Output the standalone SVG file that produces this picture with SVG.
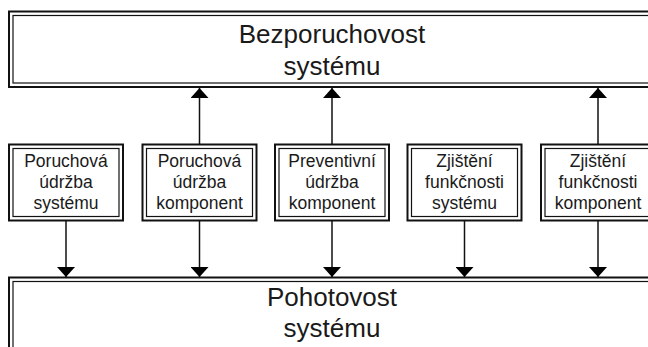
<svg xmlns="http://www.w3.org/2000/svg" width="648" height="347" viewBox="0 0 648 347">
<style>
.o{fill:none;stroke:#111;stroke-width:2}
.i{fill:none;stroke:#111;stroke-width:1.2}
.t{font-family:"Liberation Sans",Arial,sans-serif;fill:#1a1a1a;text-anchor:middle}
.big{font-size:26px}
.sm{font-size:17.5px}
.c{stroke:#111;stroke-width:1.5;fill:none}
</style>
<defs>
<marker id="ah" markerWidth="10" markerHeight="18" refX="10" refY="9" markerUnits="userSpaceOnUse" orient="auto">
<path d="M0,0 L10,9 L0,18 Z" fill="#000"/>
</marker>
</defs>
<rect width="648" height="347" fill="#fff"/>
<g id="bezporuchovost">
<rect class="o" x="9" y="11.5" width="646" height="75.5"/>
<rect class="i" x="13" y="15.5" width="638" height="67.5"/>
<text class="t big" x="332" y="43">Bezporuchovost</text>
<text class="t big" x="332" y="75">systému</text>
</g>
<g id="pohotovost">
<rect class="o" x="9" y="277.5" width="646" height="80"/>
<rect class="i" x="13" y="281.5" width="638" height="72"/>
<text class="t big" x="332" y="306">Pohotovost</text>
<text class="t big" x="332" y="337">systému</text>
</g>
<g id="n1">
<rect class="o" x="9" y="144.5" width="114" height="76"/>
<rect class="i" x="13" y="148.5" width="106" height="68"/>
<text class="t sm" x="66" y="167">Poruchová</text>
<text class="t sm" x="66" y="188">údržba</text>
<text class="t sm" x="66" y="209">systému</text>
</g>
<g id="n2">
<rect class="o" x="142.5" y="144.5" width="114" height="76"/>
<rect class="i" x="146.5" y="148.5" width="106" height="68"/>
<text class="t sm" x="199.5" y="167">Poruchová</text>
<text class="t sm" x="199.5" y="188">údržba</text>
<text class="t sm" x="199.5" y="209">komponent</text>
</g>
<g id="n3">
<rect class="o" x="275" y="144.5" width="114" height="76"/>
<rect class="i" x="279" y="148.5" width="106" height="68"/>
<text class="t sm" x="332" y="167">Preventivní</text>
<text class="t sm" x="332" y="188">údržba</text>
<text class="t sm" x="332" y="209">komponent</text>
</g>
<g id="n4">
<rect class="o" x="407.5" y="144.5" width="114" height="76"/>
<rect class="i" x="411.5" y="148.5" width="106" height="68"/>
<text class="t sm" x="464.5" y="167">Zjištění</text>
<text class="t sm" x="464.5" y="188">funkčnosti</text>
<text class="t sm" x="464.5" y="209">systému</text>
</g>
<g id="n5">
<rect class="o" x="541" y="144.5" width="114" height="76"/>
<rect class="i" x="545" y="148.5" width="106" height="68"/>
<text class="t sm" x="598" y="167">Zjištění</text>
<text class="t sm" x="598" y="188">funkčnosti</text>
<text class="t sm" x="598" y="209">komponent</text>
</g>
<g id="connectors">
<line class="c" x1="199.5" y1="144" x2="199.5" y2="88" marker-end="url(#ah)"/>
<line class="c" x1="332" y1="144" x2="332" y2="88" marker-end="url(#ah)"/>
<line class="c" x1="598" y1="144" x2="598" y2="88" marker-end="url(#ah)"/>
<line class="c" x1="66" y1="221" x2="66" y2="277" marker-end="url(#ah)"/>
<line class="c" x1="199.5" y1="221" x2="199.5" y2="277" marker-end="url(#ah)"/>
<line class="c" x1="332" y1="221" x2="332" y2="277" marker-end="url(#ah)"/>
<line class="c" x1="464.5" y1="221" x2="464.5" y2="277" marker-end="url(#ah)"/>
<line class="c" x1="598" y1="221" x2="598" y2="277" marker-end="url(#ah)"/>
</g>
</svg>
